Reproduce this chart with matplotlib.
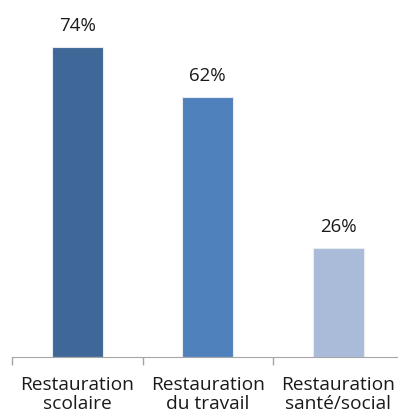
import matplotlib.pyplot as plt
import numpy as np

categories = ["Restauration\nscolaire", "Restauration\ndu travail", "Restauration\nsanté/social"]
values = [0.74, 0.62, 0.26]
value_labels = ["74%", "62%", "26%"]
colors = ["#3f6898", "#4f81bd", "#a9bbd9"]

plt.rcParams["font.family"] = ["Open Sans", "DejaVu Sans"]

fig = plt.figure(figsize=(3.98, 4.17), dpi=100)
ax = fig.add_axes([12 / 398, 60 / 417, 391.5 / 398, 0.8 * 419 / 417])

x = np.arange(len(categories))
bars = ax.bar(x, values, width=0.39, color=colors, edgecolor="#e8ecf2", linewidth=0.8)

for bar, label in zip(bars, value_labels):
    ax.annotate(
        label,
        (bar.get_x() + bar.get_width() / 2, bar.get_height()),
        xytext=(0, 15),
        textcoords="offset points",
        ha="center",
        va="center",
        fontsize=13.5,
        color="#1a1a1a",
    )

ax.set_xlim(-0.5, len(categories) - 0.5)
ax.set_ylim(0, 0.8)

for side in ("left", "right", "top"):
    ax.spines[side].set_visible(False)
ax.spines["bottom"].set_color("#a6a6a6")

ax.set_yticks([])
ax.set_xticks(x)
ax.set_xticklabels(categories, fontsize=13.8, color="#1a1a1a", linespacing=1.1)
ax.tick_params(axis="x", which="major", length=0, pad=13.5)
ax.set_xticks(np.arange(-0.5, len(categories) - 0.5), minor=True)
ax.tick_params(axis="x", which="minor", length=6, color="#a6a6a6", width=1)

fig.savefig("out.png", dpi=100)
